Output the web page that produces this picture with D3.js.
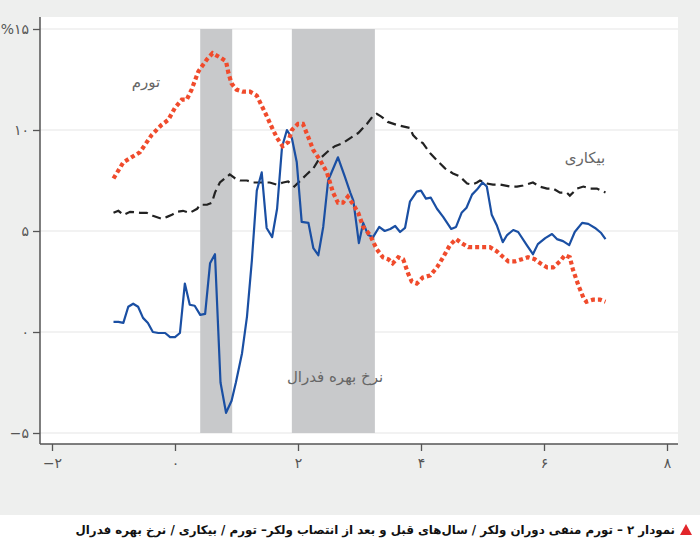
<!DOCTYPE html>
<html><head><meta charset="utf-8">
<script src="https://cdn.jsdelivr.net/npm/d3@7"></script>
<style>
html,body{margin:0;padding:0;background:#fff;}
svg{display:block;}
</style></head>
<body>
<svg id="c" width="700" height="544"></svg>
<script>
// ---- data ----
const xTicks = [-2, 0, 2, 4, 6, 8];
const xTickLabels = ["−۲", "۰", "۲", "۴", "۶", "۸"];
const yTicks = [-5, 0, 5, 10, 15];
const yTickLabels = ["−۵", "۰", "۵", "۱۰", "%۱۵"];

const shadedStart = [0.41, 1.90];
const shadedEnd   = [0.93, 3.25];

const inflationX = [-1.0,-0.84,-0.68,-0.57,-0.38,-0.22,-0.11,0.0,0.11,0.19,0.27,0.38,0.52,0.61,0.73,0.83,0.87,0.92,1.0,1.1,1.22,1.33,1.41,1.49,1.58,1.66,1.75,1.84,1.9,2.0,2.08,2.16,2.25,2.36,2.47,2.57,2.65,2.73,2.81,2.9,2.98,3.06,3.17,3.28,3.38,3.47,3.54,3.63,3.71,3.79,3.85,3.93,4.03,4.15,4.26,4.36,4.47,4.57,4.66,4.77,4.91,5.01,5.12,5.23,5.34,5.42,5.53,5.64,5.74,5.85,5.94,6.05,6.15,6.26,6.34,6.42,6.47,6.56,6.64,6.69,6.8,6.91,7.0];
const inflation  = [7.6,8.4,8.7,8.9,9.75,10.25,10.5,11.1,11.5,11.5,12.0,12.9,13.5,13.8,13.6,13.4,12.8,12.3,12.0,11.9,11.9,11.7,11.2,10.7,10.1,9.6,9.2,9.4,10.0,10.3,10.3,9.7,9.0,8.5,7.9,6.9,6.4,6.4,6.7,6.3,5.9,5.2,4.8,4.1,3.7,3.6,3.4,3.7,3.6,2.9,2.5,2.4,2.7,2.8,3.2,3.7,4.3,4.6,4.4,4.2,4.2,4.2,4.2,4.0,3.7,3.5,3.5,3.6,3.7,3.6,3.4,3.2,3.2,3.5,3.8,3.7,3.1,2.3,1.7,1.5,1.6,1.6,1.5];

const unemploymentX = [-1.0,-0.92,-0.84,-0.73,-0.57,-0.46,-0.36,-0.21,-0.13,-0.05,0.03,0.13,0.24,0.36,0.41,0.52,0.6,0.65,0.73,0.81,0.89,0.98,1.06,1.17,1.27,1.38,1.54,1.65,1.76,1.84,1.94,2.04,2.14,2.25,2.33,2.47,2.6,2.73,2.85,2.98,3.12,3.22,3.28,3.36,3.46,3.61,3.82,3.87,3.95,4.03,4.15,4.26,4.39,4.52,4.63,4.75,4.83,4.91,4.96,5.07,5.17,5.28,5.45,5.56,5.66,5.82,5.93,6.05,6.15,6.26,6.37,6.42,6.54,6.64,6.75,6.86,7.0];
const unemployment  = [5.9,6.0,5.8,5.95,5.9,5.9,5.75,5.6,5.7,5.8,5.95,6.0,5.9,6.1,6.3,6.3,6.4,6.9,7.4,7.6,7.8,7.6,7.5,7.5,7.4,7.4,7.4,7.3,7.4,7.45,7.2,7.5,7.8,8.1,8.5,8.9,9.2,9.35,9.6,9.85,10.3,10.7,10.8,10.65,10.4,10.25,10.1,9.75,9.5,9.35,8.85,8.5,8.1,7.85,7.7,7.35,7.3,7.4,7.5,7.35,7.3,7.3,7.2,7.2,7.25,7.4,7.2,7.1,7.1,6.9,6.9,6.75,7.1,7.2,7.1,7.1,6.9];

const fedRateX = [-1.0,-0.92,-0.84,-0.76,-0.68,-0.6,-0.52,-0.44,-0.36,-0.27,-0.16,-0.08,0.0,0.08,0.16,0.24,0.32,0.41,0.49,0.57,0.65,0.74,0.83,0.92,0.99,1.09,1.17,1.25,1.33,1.41,1.49,1.58,1.66,1.74,1.82,1.9,1.98,2.06,2.17,2.25,2.33,2.41,2.49,2.65,2.76,2.85,2.9,2.99,3.06,3.14,3.22,3.32,3.41,3.5,3.58,3.66,3.74,3.82,3.93,4.0,4.08,4.16,4.26,4.36,4.49,4.57,4.66,4.74,4.83,4.91,5.0,5.07,5.15,5.23,5.33,5.4,5.5,5.58,5.72,5.82,5.9,6.02,6.13,6.21,6.31,6.41,6.5,6.62,6.72,6.83,6.93,7.0];
const fedRate  = [0.5,0.5,0.45,1.25,1.4,1.25,0.7,0.45,0.0,-0.05,-0.05,-0.25,-0.25,-0.05,2.4,1.35,1.3,0.85,0.9,3.4,3.85,-2.5,-4.0,-3.4,-2.5,-1.05,0.75,3.55,7.0,7.9,5.15,4.7,6.1,9.15,10.0,9.6,8.4,5.45,5.4,4.15,3.8,5.2,7.5,8.65,7.7,6.9,6.5,4.4,5.4,4.8,4.7,5.2,5.0,5.1,5.25,4.95,5.15,6.45,6.95,7.0,6.6,6.65,6.1,5.7,5.1,5.2,5.9,6.15,6.8,7.05,7.4,7.2,5.8,5.3,4.45,4.8,5.05,4.95,4.3,3.85,4.35,4.65,4.85,4.6,4.5,4.3,4.95,5.4,5.35,5.15,4.9,4.6];

const labelInflation = "تورم";
const labelUnemployment = "بیکاری";
const labelFed = "نرخ بهره فدرال";
const caption = "نمودار ۲ – تورم منفی دوران ولکر / سال‌های قبل و بعد از انتصاب ولکر– تورم / بیکاری / نرخ بهره فدرال";

// ---- drawing ----
const svg = d3.select("#c");
const W = 700, H = 544;
const FONT = "'DejaVu Sans', 'Noto Sans', sans-serif";

svg.append("rect").attr("x",0).attr("y",0).attr("width",W).attr("height",515).attr("fill","#eeefee");
svg.append("rect").attr("x",0).attr("y",515).attr("width",W).attr("height",29).attr("fill","#ffffff");

const plotL = 40, plotR = 678, plotT = 17, plotB = 444;
svg.append("rect").attr("x",plotL).attr("y",plotT).attr("width",plotR-plotL).attr("height",plotB-plotT).attr("fill","#ffffff");

const x = d3.scaleLinear().domain([-2, 8]).range([52, 667]);
const y = d3.scaleLinear().domain([-5, 15]).range([433, 29]);

// gridlines
svg.append("g").selectAll("line").data(yTicks).join("line")
  .attr("x1", plotL).attr("x2", plotR)
  .attr("y1", d=>y(d)).attr("y2", d=>y(d))
  .attr("stroke", "#e6e6e6").attr("stroke-width", 1.2);

// shaded periods
svg.append("g").selectAll("rect").data(shadedStart).join("rect")
  .attr("x", d=>x(d))
  .attr("width", (d,i)=>x(shadedEnd[i]) - x(d))
  .attr("y", y(15)).attr("height", y(-5)-y(15))
  .attr("fill", "#c8c9cb");

// axes
const yAxis = d3.axisLeft(y).tickValues(yTicks).tickSize(7).tickPadding(4)
  .tickFormat((d,i)=>yTickLabels[i]);
const gy = svg.append("g").attr("transform", `translate(${plotL},0)`).call(yAxis);
gy.select(".domain").remove();
gy.selectAll(".tick line").attr("stroke","#555").attr("stroke-width",1.3);
gy.selectAll(".tick text").attr("fill","#555").style("font-family",FONT).style("font-size","14px");

const xAxis = d3.axisBottom(x).tickValues(xTicks).tickSize(7).tickPadding(7)
  .tickFormat((d,i)=>xTickLabels[i]);
const gx = svg.append("g").attr("transform", `translate(0,${plotB})`).call(xAxis);
gx.select(".domain").remove();
gx.selectAll(".tick line").attr("stroke","#555").attr("stroke-width",1.3);
gx.selectAll(".tick text").attr("fill","#555").style("font-family",FONT).style("font-size","14px");

svg.append("line").attr("x1",plotL).attr("x2",plotL).attr("y1",plotT).attr("y2",plotB)
  .attr("stroke","#555").attr("stroke-width",1.5);
svg.append("line").attr("x1",plotL).attr("x2",plotR).attr("y1",plotB).attr("y2",plotB)
  .attr("stroke","#555").attr("stroke-width",1.5);

// lines
const line = d3.line().x(d=>x(d[0])).y(d=>y(d[1]));
const zip = (xs, ys) => xs.map((v,i)=>[v, ys[i]]);

svg.append("path").datum(zip(unemploymentX, unemployment))
  .attr("d", line).attr("fill","none").attr("stroke","#222")
  .attr("stroke-width",2.2).attr("stroke-dasharray","9 5");

svg.append("path").datum(zip(fedRateX, fedRate))
  .attr("d", line).attr("fill","none").attr("stroke","#1a4fa3")
  .attr("stroke-width",2.2).attr("stroke-linejoin","round");

svg.append("path").datum(zip(inflationX, inflation))
  .attr("d", line).attr("fill","none").attr("stroke","#f04b2c")
  .attr("stroke-width",4.2).attr("stroke-dasharray","4 3");

// series labels
const lbl = (txt, px, py, size) => svg.append("text").attr("x",px).attr("y",py)
  .attr("text-anchor","middle").attr("dominant-baseline","middle")
  .attr("fill","#666").style("font-family",FONT).style("font-size",size+"px").text(txt);
lbl(labelInflation, 146, 82, 15);
lbl(labelUnemployment, 585, 158, 15);
lbl(labelFed, 335, 377, 15);

// caption (fit to the width used in the reference)
const cap = svg.append("text").attr("x", 675).attr("y", 530)
  .attr("text-anchor","start").attr("direction","rtl").attr("dominant-baseline","middle")
  .attr("fill","#111").style("font-family",FONT).style("font-size","14px").style("font-weight","600")
  .text(caption);
const capW = cap.node().getComputedTextLength();
const target = 600;
if (capW > target) {
  const s = 14 * target / capW;
  cap.style("font-size", s.toFixed(2) + "px");
}
svg.append("path").attr("d", "M686,524 L692,535 L680,535 Z").attr("fill","#e2262b");
</script>
</body></html>
